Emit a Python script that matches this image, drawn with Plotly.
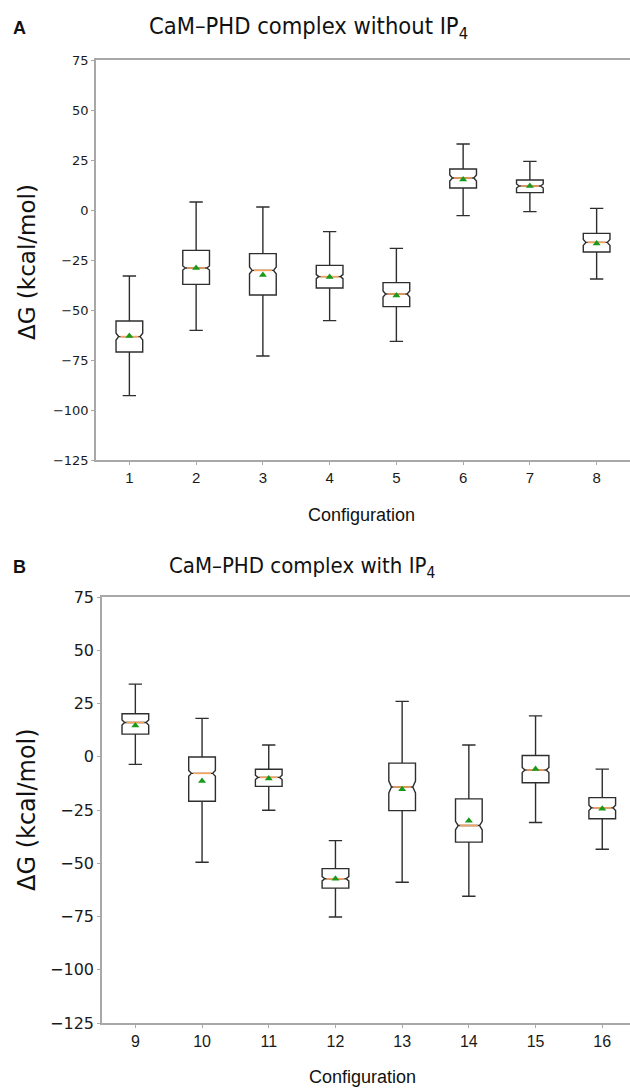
import plotly.graph_objects as go

W, H = 630, 1089

# ---------------- data ----------------
configs_a = [1, 2, 3, 4, 5, 6, 7, 8]
upper_a = [-33.0, 4.0, 1.5, -10.8, -19.2, 33.0, 24.3, 0.8]
q3_a = [-55.5, -20.2, -21.8, -27.7, -36.3, 20.5, 15.0, -11.7]
median_a = [-63.3, -29.0, -30.2, -33.3, -42.0, 16.0, 12.0, -16.2]
q1_a = [-71.0, -37.2, -42.5, -39.0, -48.3, 11.0, 8.7, -21.0]
lower_a = [-92.8, -60.2, -73.0, -55.3, -65.7, -2.8, -0.8, -34.5]
mean_a = [-63.0, -29.0, -32.5, -33.5, -42.7, 15.2, 12.0, -16.8]
notch_a = [1.7, 1.0, 1.7, 1.0, 1.5, 1.5, 1.0, 1.5]

configs_b = [9, 10, 11, 12, 13, 14, 15, 16]
upper_b = [34.1, 18.0, 5.5, -39.4, 26.0, 5.5, 19.2, -5.8]
q3_b = [20.2, -0.1, -5.9, -52.5, -3.0, -19.8, 0.6, -19.2]
median_b = [16.1, -7.8, -9.7, -57.3, -14.2, -32.3, -6.2, -24.0]
q1_b = [10.6, -20.9, -13.9, -61.7, -25.3, -40.1, -12.2, -29.1]
lower_b = [-3.6, -49.5, -25.1, -75.2, -58.9, -65.5, -30.9, -43.4]
mean_b = [14.7, -11.4, -10.2, -57.3, -15.3, -30.1, -5.8, -24.4]
notch_b = [1.2, 1.4, 1.0, 1.0, 2.8, 2.0, 1.2, 1.2]

y_ticks = [-125, -100, -75, -50, -25, 0, 25, 50, 75]
title_a = "CaM\u2013PHD complex without IP<sub>4</sub>"
title_b = "CaM\u2013PHD complex with IP<sub>4</sub>"
y_title = "\u0394G (kcal/mol)"
x_title = "Configuration"

# ---------------- style ----------------
BOX_W = 0.4
NOTCH_W = 0.1
BOX_LINE = "#2e2e2e"
MEDIAN_C = "#f7a35c"
MEAN_C = "#1a9a1a"
SPINE = "#a8a8a8"


def px(x):
    return x / W


def py(y):
    return 1 - y / H


fig = go.Figure()


def add_panel(xref, yref, pos, lo, q1, med, q3, up, mean, notch):
    fig.add_trace(go.Box(
        x=pos, q1=q1, median=med, q3=q3, lowerfence=lo, upperfence=up,
        notched=True, notchspan=notch, notchwidth=NOTCH_W,
        width=BOX_W, whiskerwidth=0.5,
        line=dict(color=BOX_LINE, width=1.4),
        fillcolor="rgba(255,255,255,0)",
        boxpoints=False, showlegend=False, hoverinfo="skip",
        xaxis=xref, yaxis=yref,
    ))
    half = BOX_W / 2 * (1 - NOTCH_W) * 0.75
    mx, my = [], []
    for p, m in zip(pos, med):
        mx += [p - half, p + half, None]
        my += [m, m, None]
    fig.add_trace(go.Scatter(
        x=mx, y=my, mode="lines", line=dict(color=MEDIAN_C, width=1.6),
        showlegend=False, hoverinfo="skip", xaxis=xref, yaxis=yref,
    ))
    fig.add_trace(go.Scatter(
        x=pos, y=mean, mode="markers",
        marker=dict(symbol="triangle-up", color=MEAN_C, size=7,
                    line=dict(width=0)),
        showlegend=False, hoverinfo="skip", xaxis=xref, yaxis=yref,
    ))


add_panel("x", "y", configs_a, lower_a, q1_a, median_a, q3_a, upper_a,
          mean_a, notch_a)
add_panel("x2", "y2", configs_b, lower_b, q1_b, median_b, q3_b, upper_b,
          mean_b, notch_b)

axis_common = dict(showline=True, linecolor=SPINE, linewidth=1.5,
                   ticks="outside", tickcolor=SPINE, ticklen=3, tickwidth=1,
                   showgrid=False, zeroline=False, automargin=False)

# panel A: plot area x 96..630, y 60..460
# panel B: plot area x 102..630, y 597..1023
fig.update_layout(
    width=W, height=H,
    margin=dict(l=0, r=0, t=0, b=0),
    paper_bgcolor="white", plot_bgcolor="white",
    xaxis=dict(domain=[px(96), 1], range=[0.5, 8.5], tickvals=configs_a,
               mirror=True, anchor="y",
               tickfont=dict(family="Liberation Sans, Arial", size=15,
                             color="#1a1a1a"),
               **axis_common),
    yaxis=dict(domain=[py(460), py(60)], range=[-125, 75], tickvals=y_ticks,
               anchor="x",
               tickfont=dict(family="DejaVu Sans", size=13, color="#1a1a1a"),
               **axis_common),
    xaxis2=dict(domain=[px(102), 1],
                range=[8.5, 8.5 + (W - 102) / 66.7], tickvals=configs_b,
                mirror=True, anchor="y2",
                tickfont=dict(family="Liberation Sans, Arial", size=16,
                              color="#1a1a1a"),
                **axis_common),
    yaxis2=dict(domain=[py(1023), py(597)], range=[-125, 75],
                tickvals=y_ticks, anchor="x2",
                tickfont=dict(family="DejaVu Sans", size=16, color="#1a1a1a"),
                **axis_common),
)

ann = []
# panel letters
ann.append(dict(text="<b>A</b>", x=px(19), y=py(28), font=dict(
    family="Liberation Sans, Arial", size=18, color="#111")))
ann.append(dict(text="<b>B</b>", x=px(19), y=py(567), font=dict(
    family="Liberation Sans, Arial", size=18, color="#111")))
# titles
ann.append(dict(text=title_a, x=px(308), y=py(27), font=dict(
    family="DejaVu Sans Condensed, DejaVu Sans", size=23.5, color="#111")))
ann.append(dict(text=title_b, x=px(302), y=py(567), font=dict(
    family="DejaVu Sans Condensed, DejaVu Sans", size=22, color="#111")))
# x titles
ann.append(dict(text=x_title, x=px(361), y=py(515), font=dict(
    family="Liberation Sans, Arial", size=18, color="#111")))
ann.append(dict(text=x_title, x=px(363), y=py(1077), font=dict(
    family="Liberation Sans, Arial", size=18, color="#111")))
# y titles
ann.append(dict(text=y_title, x=px(27), y=py(262), textangle=-90, font=dict(
    family="DejaVu Sans", size=23, color="#111")))
ann.append(dict(text=y_title, x=px(27), y=py(810), textangle=-90, font=dict(
    family="DejaVu Sans", size=24, color="#111")))

for a in ann:
    a.update(xref="paper", yref="paper", showarrow=False,
             xanchor="center", yanchor="middle")
fig.update_layout(annotations=ann)

fig.write_html("out.html",
               config={"displayModeBar": False},
               post_script="document.body.style.margin='0';"
                           "document.body.style.overflow='hidden';")
